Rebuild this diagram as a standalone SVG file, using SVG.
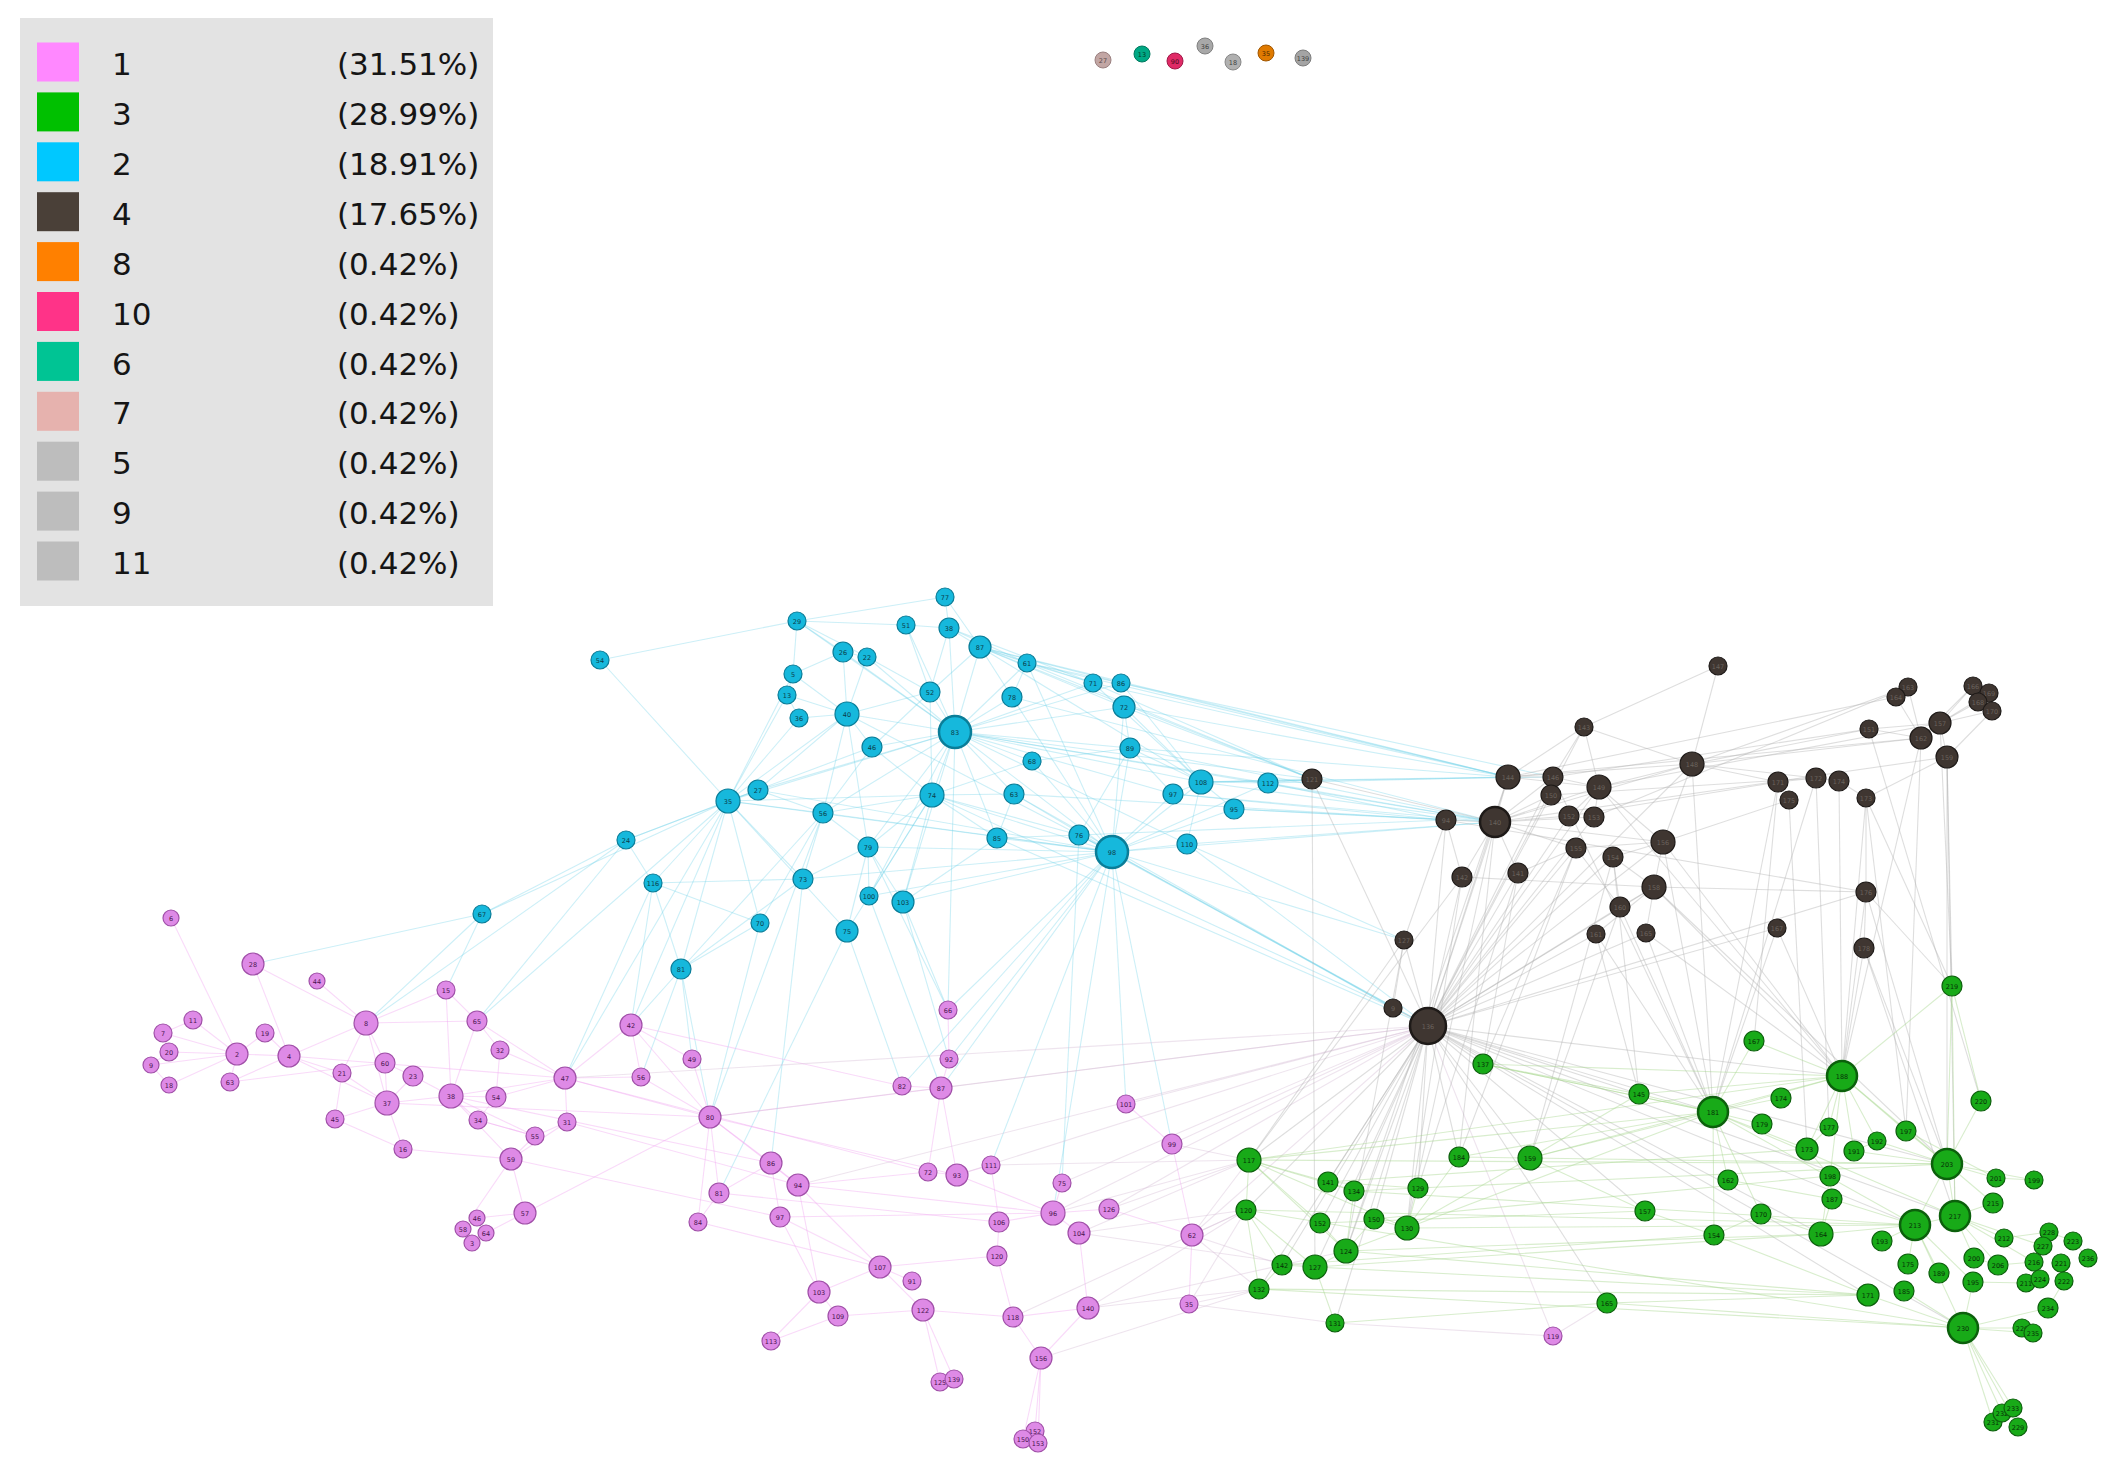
<svg xmlns="http://www.w3.org/2000/svg" width="2116" height="1465" viewBox="0 0 2116 1465">
<style>
text{font-family:"DejaVu Sans","Liberation Sans",sans-serif}
.lg{font-size:31px;fill:#151515}
#edges path{fill:none;stroke-width:1.1}
.ec path{stroke:#72d2e8;stroke-opacity:.36}
.ep path{stroke:#f0a8f0;stroke-opacity:.42}
.eg path{stroke:#a8d890;stroke-opacity:.45}
.ed path{stroke:#b0b0b0;stroke-opacity:.42}
.ex path{stroke:#d4bcd4;stroke-opacity:.4}
.n text{font-size:6.5px;text-anchor:middle}
.c circle{fill:#16b8dc;stroke:#0a7d98;stroke-width:1.2}
.c text{fill:#0b3c4a}
.p circle{fill:#de8ae6;stroke:#a050a8;stroke-width:1.2}
.p text{fill:#4a1550}
.g circle{fill:#18aa18;stroke:#0c600c;stroke-width:1.2}
.g text{fill:#063006}
.d circle{fill:#3f3631;stroke:#1e1a18;stroke-width:1.2}
.d text{fill:#6a625c}
.b circle{stroke-width:2.5}
</style>
<rect x="0" y="0" width="2116" height="1465" fill="#ffffff"/>
<g id="edges">
<g class="ec">
<path d="M955 732L847 714"/><path d="M955 732L872 747"/><path d="M955 732L930 692"/><path d="M955 732L932 795"/><path d="M955 732L980 647"/><path d="M955 732L949 628"/><path d="M955 732L843 652"/><path d="M955 732L867 657"/><path d="M955 732L1012 697"/><path d="M955 732L1130 748"/><path d="M955 732L1201 782"/><path d="M955 732L1112 852"/><path d="M955 732L728 801"/><path d="M955 732L823 813"/><path d="M955 732L868 847"/><path d="M955 732L1027 663"/><path d="M955 732L1032 761"/><path d="M955 732L1014 794"/><path d="M955 732L997 838"/><path d="M955 732L1124 707"/><path d="M955 732L906 625"/><path d="M955 732L797 621"/><path d="M955 732L758 790"/><path d="M955 732L869 896"/><path d="M955 732L903 902"/><path d="M955 732L1173 794"/><path d="M955 732L1187 844"/><path d="M955 732L1268 783"/><path d="M955 732L1093 683"/><path d="M955 732L1121 683"/>
<path d="M1112 852L932 795"/><path d="M1112 852L1014 794"/><path d="M1112 852L997 838"/><path d="M1112 852L1032 761"/><path d="M1112 852L1130 748"/><path d="M1112 852L1201 782"/><path d="M1112 852L1173 794"/><path d="M1112 852L1187 844"/><path d="M1112 852L1234 809"/><path d="M1112 852L1079 835"/><path d="M1112 852L1268 783"/><path d="M1112 852L868 847"/><path d="M1112 852L903 902"/><path d="M1112 852L869 896"/><path d="M1112 852L803 879"/><path d="M1112 852L823 813"/><path d="M1112 852L728 801"/><path d="M1112 852L758 790"/><path d="M1112 852L847 714"/><path d="M1112 852L1012 697"/><path d="M1112 852L1124 707"/><path d="M1112 852L1027 663"/>
<path d="M728 801L758 790"/><path d="M728 801L799 718"/><path d="M728 801L787 695"/><path d="M728 801L793 674"/><path d="M728 801L626 840"/><path d="M728 801L653 883"/><path d="M728 801L803 879"/><path d="M728 801L823 813"/><path d="M728 801L847 714"/><path d="M728 801L872 747"/><path d="M728 801L932 795"/><path d="M728 801L760 923"/><path d="M728 801L847 931"/><path d="M728 801L600 660"/>
<path d="M797 621L600 660"/><path d="M797 621L906 625"/><path d="M797 621L843 652"/><path d="M797 621L793 674"/><path d="M797 621L945 597"/><path d="M797 621L867 657"/>
<path d="M949 628L945 597"/><path d="M949 628L980 647"/><path d="M949 628L906 625"/><path d="M949 628L930 692"/><path d="M949 628L1027 663"/><path d="M949 628L1093 683"/>
<path d="M980 647L945 597"/><path d="M980 647L1027 663"/><path d="M980 647L1093 683"/><path d="M980 647L1121 683"/><path d="M980 647L1124 707"/><path d="M980 647L1012 697"/><path d="M980 647L930 692"/><path d="M980 647L1201 782"/>
<path d="M847 714L843 652"/><path d="M847 714L867 657"/><path d="M847 714L799 718"/><path d="M847 714L787 695"/><path d="M847 714L872 747"/><path d="M847 714L823 813"/><path d="M847 714L868 847"/><path d="M847 714L930 692"/><path d="M847 714L793 674"/><path d="M847 714L758 790"/>
<path d="M932 795L872 747"/><path d="M932 795L868 847"/><path d="M932 795L823 813"/><path d="M932 795L1014 794"/><path d="M932 795L997 838"/><path d="M932 795L903 902"/><path d="M932 795L1079 835"/><path d="M932 795L1032 761"/><path d="M932 795L930 692"/><path d="M932 795L847 931"/><path d="M932 795L869 896"/>
<path d="M823 813L872 747"/><path d="M823 813L803 879"/><path d="M823 813L868 847"/><path d="M823 813L758 790"/><path d="M823 813L760 923"/>
<path d="M868 847L869 896"/><path d="M868 847L903 902"/><path d="M868 847L847 931"/><path d="M868 847L803 879"/>
<path d="M1201 782L1173 794"/><path d="M1201 782L1268 783"/><path d="M1201 782L1234 809"/><path d="M1201 782L1130 748"/><path d="M1201 782L1124 707"/><path d="M1201 782L1121 683"/><path d="M1201 782L1093 683"/><path d="M1201 782L1187 844"/>
<path d="M1027 663L1093 683"/><path d="M1027 663L1012 697"/><path d="M1027 663L1121 683"/><path d="M1130 748L1124 707"/><path d="M1130 748L1173 794"/><path d="M1130 748L1032 761"/><path d="M1130 748L1079 835"/><path d="M997 838L1014 794"/><path d="M997 838L1079 835"/><path d="M997 838L903 902"/>
<path d="M626 840L653 883"/><path d="M626 840L758 790"/><path d="M653 883L803 879"/><path d="M653 883L760 923"/><path d="M681 969L728 801"/><path d="M681 969L653 883"/><path d="M681 969L760 923"/><path d="M681 969L803 879"/><path d="M681 969L823 813"/><path d="M482 914L728 801"/><path d="M482 914L626 840"/><path d="M843 652L867 657"/><path d="M843 652L793 674"/><path d="M930 692L867 657"/><path d="M930 692L906 625"/><path d="M930 692L872 747"/><path d="M787 695L793 674"/><path d="M787 695L799 718"/>
<path d="M1201 782L1495 822"/><path d="M1201 782L1508 777"/><path d="M1201 782L1553 777"/><path d="M1201 782L1312 779"/><path d="M1268 783L1312 779"/><path d="M1268 783L1495 822"/><path d="M1268 783L1446 820"/><path d="M1268 783L1508 777"/><path d="M1173 794L1495 822"/><path d="M1173 794L1446 820"/><path d="M1234 809L1495 822"/><path d="M1234 809L1446 820"/><path d="M1187 844L1495 822"/><path d="M1187 844L1428 1026"/><path d="M1187 844L1404 940"/><path d="M1130 748L1495 822"/><path d="M1130 748L1508 777"/><path d="M1124 707L1508 777"/><path d="M1124 707L1312 779"/><path d="M1121 683L1508 777"/><path d="M1121 683L1553 777"/><path d="M1093 683L1508 777"/><path d="M1093 683L1312 779"/><path d="M1027 663L1312 779"/><path d="M1027 663L1508 777"/><path d="M980 647L1312 779"/><path d="M980 647L1508 777"/><path d="M955 732L1495 822"/><path d="M955 732L1312 779"/><path d="M1112 852L1428 1026"/><path d="M1112 852L1495 822"/><path d="M1112 852L1393 1008"/><path d="M1112 852L1404 940"/><path d="M1079 835L1428 1026"/><path d="M1079 835L1446 820"/><path d="M997 838L1428 1026"/><path d="M1012 697L1495 822"/><path d="M1014 794L1446 820"/><path d="M1014 794L1393 1008"/><path d="M932 795L1393 1008"/>
<path d="M681 969L710 1117"/><path d="M681 969L692 1059"/><path d="M681 969L631 1025"/><path d="M681 969L641 1077"/><path d="M728 801L631 1025"/><path d="M728 801L565 1078"/><path d="M728 801L477 1021"/><path d="M626 840L366 1023"/><path d="M626 840L477 1021"/><path d="M653 883L565 1078"/><path d="M653 883L631 1025"/><path d="M482 914L366 1023"/><path d="M482 914L446 990"/><path d="M482 914L253 964"/><path d="M868 847L948 1010"/><path d="M903 902L949 1059"/><path d="M903 902L948 1010"/><path d="M869 896L941 1088"/><path d="M1112 852L948 1010"/><path d="M1112 852L949 1059"/><path d="M1112 852L902 1086"/><path d="M1112 852L991 1165"/><path d="M1112 852L1053 1213"/><path d="M1112 852L941 1088"/><path d="M1112 852L1126 1104"/><path d="M1112 852L1172 1144"/><path d="M955 732L948 1010"/><path d="M1079 835L1062 1183"/><path d="M847 931L902 1086"/><path d="M847 931L719 1193"/><path d="M760 923L710 1117"/><path d="M803 879L771 1163"/><path d="M823 813L710 1117"/>
</g>
<g class="ep">
<path d="M237 1054L289 1056"/><path d="M237 1054L265 1033"/><path d="M237 1054L230 1082"/><path d="M237 1054L193 1020"/><path d="M237 1054L163 1033"/><path d="M237 1054L169 1052"/><path d="M237 1054L151 1065"/><path d="M237 1054L169 1085"/><path d="M237 1054L171 918"/>
<path d="M289 1056L366 1023"/><path d="M289 1056L265 1033"/><path d="M289 1056L342 1073"/><path d="M289 1056L387 1103"/><path d="M289 1056L253 964"/><path d="M289 1056L230 1082"/>
<path d="M366 1023L385 1063"/><path d="M366 1023L342 1073"/><path d="M366 1023L446 990"/><path d="M366 1023L477 1021"/><path d="M366 1023L387 1103"/><path d="M366 1023L317 981"/><path d="M366 1023L253 964"/>
<path d="M387 1103L451 1096"/><path d="M387 1103L342 1073"/><path d="M387 1103L385 1063"/><path d="M387 1103L413 1076"/><path d="M387 1103L335 1119"/><path d="M387 1103L403 1149"/>
<path d="M451 1096L496 1097"/><path d="M451 1096L413 1076"/><path d="M451 1096L478 1120"/><path d="M451 1096L477 1021"/><path d="M451 1096L446 990"/><path d="M451 1096L565 1078"/><path d="M451 1096L511 1159"/><path d="M451 1096L535 1136"/>
<path d="M496 1097L565 1078"/><path d="M496 1097L478 1120"/><path d="M496 1097L500 1050"/>
<path d="M565 1078L567 1122"/><path d="M565 1078L631 1025"/><path d="M565 1078L641 1077"/><path d="M565 1078L710 1117"/><path d="M565 1078L500 1050"/><path d="M565 1078L477 1021"/>
<path d="M535 1136L511 1159"/><path d="M535 1136L567 1122"/><path d="M535 1136L478 1120"/><path d="M511 1159L525 1213"/><path d="M511 1159L463 1229"/><path d="M511 1159L403 1149"/><path d="M525 1213L477 1218"/><path d="M525 1213L486 1233"/><path d="M525 1213L710 1117"/>
<path d="M710 1117L771 1163"/><path d="M710 1117L719 1193"/><path d="M710 1117L698 1222"/><path d="M710 1117L631 1025"/><path d="M710 1117L641 1077"/><path d="M710 1117L692 1059"/><path d="M710 1117L798 1185"/>
<path d="M771 1163L798 1185"/><path d="M771 1163L780 1217"/><path d="M771 1163L719 1193"/><path d="M798 1185L880 1267"/><path d="M798 1185L928 1172"/><path d="M798 1185L819 1292"/><path d="M780 1217L819 1292"/><path d="M780 1217L880 1267"/>
<path d="M819 1292L838 1316"/><path d="M819 1292L880 1267"/><path d="M819 1292L771 1341"/><path d="M880 1267L912 1281"/><path d="M880 1267L923 1310"/><path d="M880 1267L997 1256"/>
<path d="M923 1310L838 1316"/><path d="M923 1310L954 1379"/><path d="M923 1310L940 1382"/><path d="M923 1310L1013 1317"/><path d="M1013 1317L1041 1358"/><path d="M1013 1317L1088 1308"/><path d="M1041 1358L1035 1431"/><path d="M1041 1358L1023 1439"/><path d="M1041 1358L1038 1443"/><path d="M1041 1358L1088 1308"/><path d="M838 1316L771 1341"/>
<path d="M957 1175L928 1172"/><path d="M957 1175L941 1088"/><path d="M957 1175L991 1165"/><path d="M957 1175L1053 1213"/><path d="M941 1088L949 1059"/><path d="M941 1088L902 1086"/><path d="M941 1088L928 1172"/><path d="M949 1059L948 1010"/>
<path d="M999 1222L1053 1213"/><path d="M999 1222L997 1256"/><path d="M999 1222L991 1165"/><path d="M997 1256L1013 1317"/><path d="M1053 1213L1062 1183"/><path d="M1053 1213L1079 1233"/><path d="M1053 1213L1109 1209"/><path d="M1079 1233L1088 1308"/><path d="M1109 1209L1192 1235"/><path d="M1126 1104L1172 1144"/><path d="M1172 1144L1192 1235"/><path d="M1189 1304L1192 1235"/>
<path d="M163 1033L169 1052"/><path d="M169 1052L151 1065"/><path d="M151 1065L169 1085"/><path d="M193 1020L163 1033"/><path d="M342 1073L335 1119"/><path d="M403 1149L335 1119"/><path d="M413 1076L385 1063"/><path d="M385 1063L230 1082"/><path d="M446 990L477 1021"/><path d="M477 1021L500 1050"/><path d="M478 1120L535 1136"/><path d="M567 1122L511 1159"/><path d="M641 1077L631 1025"/><path d="M692 1059L631 1025"/><path d="M719 1193L698 1222"/>
<path d="M565 1078L928 1172"/><path d="M451 1096L771 1163"/><path d="M710 1117L957 1175"/><path d="M387 1103L710 1117"/><path d="M289 1056L565 1078"/><path d="M780 1217L1053 1213"/><path d="M798 1185L1053 1213"/><path d="M710 1117L941 1088"/><path d="M567 1122L798 1185"/><path d="M511 1159L780 1217"/><path d="M631 1025L902 1086"/><path d="M698 1222L880 1267"/><path d="M719 1193L999 1222"/>
</g>
<g class="ex">
<path d="M1192 1235L1249 1160"/><path d="M1192 1235L1246 1210"/><path d="M1192 1235L1259 1289"/><path d="M1192 1235L1282 1265"/><path d="M1109 1209L1249 1160"/><path d="M1079 1233L1246 1210"/><path d="M1079 1233L1249 1160"/><path d="M1088 1308L1259 1289"/><path d="M1088 1308L1246 1210"/><path d="M1041 1358L1259 1289"/><path d="M1189 1304L1259 1289"/><path d="M1189 1304L1246 1210"/><path d="M1172 1144L1249 1160"/><path d="M1172 1144L1428 1026"/><path d="M1126 1104L1428 1026"/><path d="M1053 1213L1428 1026"/><path d="M1053 1213L1249 1160"/><path d="M1062 1183L1428 1026"/><path d="M1013 1317L1246 1210"/><path d="M1553 1336L1335 1323"/><path d="M1553 1336L1607 1303"/><path d="M1553 1336L1428 1026"/><path d="M957 1175L1428 1026"/><path d="M941 1088L1428 1026"/><path d="M710 1117L1428 1026"/><path d="M798 1185L1428 1026"/><path d="M565 1078L1428 1026"/><path d="M1109 1209L1428 1026"/><path d="M1192 1235L1428 1026"/><path d="M1079 1233L1315 1267"/><path d="M1088 1308L1346 1251"/><path d="M991 1165L1249 1160"/><path d="M1189 1304L1335 1323"/>
</g>
<g class="ed">
<path d="M1428 1026L1495 822"/><path d="M1428 1026L1508 777"/><path d="M1428 1026L1553 777"/><path d="M1428 1026L1551 795"/><path d="M1428 1026L1599 787"/><path d="M1428 1026L1569 816"/><path d="M1428 1026L1594 817"/><path d="M1428 1026L1576 848"/><path d="M1428 1026L1613 857"/><path d="M1428 1026L1663 842"/><path d="M1428 1026L1654 887"/><path d="M1428 1026L1620 907"/><path d="M1428 1026L1596 934"/><path d="M1428 1026L1646 933"/><path d="M1428 1026L1518 873"/><path d="M1428 1026L1462 877"/><path d="M1428 1026L1404 940"/><path d="M1428 1026L1393 1008"/><path d="M1428 1026L1312 779"/><path d="M1428 1026L1446 820"/><path d="M1428 1026L1692 764"/><path d="M1428 1026L1584 727"/><path d="M1428 1026L1866 892"/><path d="M1428 1026L1777 928"/>
<path d="M1428 1026L1483 1064"/><path d="M1428 1026L1459 1157"/><path d="M1428 1026L1530 1158"/><path d="M1428 1026L1418 1188"/><path d="M1428 1026L1407 1228"/><path d="M1428 1026L1346 1251"/><path d="M1428 1026L1354 1191"/><path d="M1428 1026L1328 1182"/><path d="M1428 1026L1320 1223"/><path d="M1428 1026L1374 1219"/><path d="M1428 1026L1249 1160"/><path d="M1428 1026L1246 1210"/><path d="M1428 1026L1282 1265"/><path d="M1428 1026L1315 1267"/><path d="M1428 1026L1259 1289"/><path d="M1428 1026L1335 1323"/><path d="M1428 1026L1639 1094"/><path d="M1428 1026L1713 1112"/><path d="M1428 1026L1842 1076"/><path d="M1428 1026L1947 1164"/><path d="M1428 1026L1915 1225"/><path d="M1428 1026L1955 1216"/><path d="M1428 1026L1963 1328"/><path d="M1428 1026L1821 1234"/><path d="M1428 1026L1868 1295"/><path d="M1428 1026L1645 1211"/><path d="M1428 1026L1607 1303"/>
<path d="M1495 822L1508 777"/><path d="M1495 822L1553 777"/><path d="M1495 822L1551 795"/><path d="M1495 822L1599 787"/><path d="M1495 822L1446 820"/><path d="M1495 822L1569 816"/><path d="M1495 822L1594 817"/><path d="M1495 822L1518 873"/><path d="M1495 822L1462 877"/><path d="M1495 822L1576 848"/><path d="M1495 822L1663 842"/><path d="M1495 822L1692 764"/><path d="M1495 822L1312 779"/>
<path d="M1508 777L1553 777"/><path d="M1508 777L1584 727"/><path d="M1508 777L1599 787"/><path d="M1508 777L1692 764"/><path d="M1553 777L1551 795"/><path d="M1553 777L1599 787"/><path d="M1599 787L1569 816"/><path d="M1599 787L1594 817"/><path d="M1599 787L1692 764"/><path d="M1599 787L1663 842"/><path d="M1599 787L1584 727"/>
<path d="M1692 764L1718 666"/><path d="M1692 764L1584 727"/><path d="M1692 764L1869 729"/><path d="M1692 764L1921 738"/><path d="M1692 764L1778 782"/><path d="M1692 764L1663 842"/><path d="M1692 764L1816 778"/><path d="M1692 764L1908 687"/>
<path d="M1869 729L1921 738"/><path d="M1869 729L1940 723"/><path d="M1921 738L1940 723"/><path d="M1921 738L1908 687"/><path d="M1921 738L1896 697"/><path d="M1921 738L1973 686"/><path d="M1940 723L1947 757"/><path d="M1940 723L1978 702"/><path d="M1940 723L1989 693"/><path d="M1940 723L1992 711"/><path d="M1940 723L1973 686"/><path d="M1947 757L1992 711"/>
<path d="M1778 782L1816 778"/><path d="M1778 782L1789 800"/><path d="M1816 778L1839 781"/><path d="M1839 781L1866 798"/><path d="M1789 800L1663 842"/><path d="M1866 798L1947 757"/><path d="M1663 842L1654 887"/><path d="M1663 842L1576 848"/><path d="M1663 842L1613 857"/><path d="M1654 887L1620 907"/><path d="M1654 887L1596 934"/><path d="M1654 887L1646 933"/><path d="M1654 887L1866 892"/><path d="M1654 887L1613 857"/><path d="M1613 857L1620 907"/><path d="M1576 848L1620 907"/><path d="M1866 892L1864 948"/><path d="M1866 892L1866 798"/><path d="M1518 873L1576 848"/><path d="M1462 877L1446 820"/><path d="M1446 820L1404 940"/><path d="M1404 940L1393 1008"/><path d="M1584 727L1553 777"/>
<path d="M1508 777L1921 738"/><path d="M1553 777L1869 729"/><path d="M1599 787L1940 723"/><path d="M1495 822L1947 757"/><path d="M1594 817L1908 687"/><path d="M1569 816L1778 782"/><path d="M1551 795L1816 778"/><path d="M1462 877L1654 887"/><path d="M1446 820L1866 892"/><path d="M1584 727L1718 666"/><path d="M1509 777L1896 697"/>
<path d="M1866 892L1952 986"/><path d="M1866 892L1947 1164"/><path d="M1866 892L1842 1076"/><path d="M1864 948L1947 1164"/><path d="M1864 948L1955 1216"/><path d="M1864 948L1842 1076"/><path d="M1947 757L1952 986"/><path d="M1947 757L1955 1216"/><path d="M1947 757L1947 1164"/><path d="M1940 723L1952 986"/><path d="M1921 738L1842 1076"/><path d="M1921 738L1906 1131"/><path d="M1866 798L1842 1076"/><path d="M1866 798L1952 986"/><path d="M1839 781L1842 1076"/><path d="M1816 778L1829 1127"/><path d="M1816 778L1713 1112"/><path d="M1778 782L1713 1112"/><path d="M1778 782L1754 1041"/><path d="M1789 800L1807 1149"/><path d="M1777 928L1713 1112"/><path d="M1777 928L1842 1076"/><path d="M1646 933L1713 1112"/><path d="M1646 933L1842 1076"/><path d="M1596 934L1639 1094"/><path d="M1596 934L1713 1112"/><path d="M1620 907L1713 1112"/><path d="M1620 907L1530 1158"/><path d="M1654 887L1842 1076"/><path d="M1654 887L1947 1164"/><path d="M1663 842L1842 1076"/><path d="M1663 842L1713 1112"/><path d="M1613 857L1530 1158"/><path d="M1613 857L1639 1094"/><path d="M1576 848L1483 1064"/><path d="M1576 848L1459 1157"/><path d="M1518 873L1483 1064"/><path d="M1518 873L1418 1188"/><path d="M1462 877L1407 1228"/><path d="M1462 877L1249 1160"/><path d="M1495 822L1407 1228"/><path d="M1495 822L1459 1157"/><path d="M1692 764L1713 1112"/><path d="M1553 777L1713 1112"/><path d="M1599 787L1842 1076"/><path d="M1404 940L1346 1251"/><path d="M1404 940L1249 1160"/><path d="M1312 779L1315 1267"/><path d="M1508 777L1346 1251"/><path d="M1869 729L1981 1101"/><path d="M1866 798L1906 1131"/>
</g>
<g class="eg">
<path d="M1249 1160L1328 1182"/><path d="M1249 1160L1246 1210"/><path d="M1249 1160L1320 1223"/><path d="M1249 1160L1346 1251"/><path d="M1249 1160L1354 1191"/><path d="M1249 1160L1713 1112"/><path d="M1249 1160L1947 1164"/><path d="M1249 1160L1407 1228"/>
<path d="M1246 1210L1282 1265"/><path d="M1246 1210L1259 1289"/><path d="M1246 1210L1315 1267"/><path d="M1246 1210L1915 1225"/><path d="M1282 1265L1315 1267"/><path d="M1282 1265L1259 1289"/><path d="M1315 1267L1346 1251"/><path d="M1315 1267L1335 1323"/><path d="M1315 1267L1821 1234"/>
<path d="M1346 1251L1320 1223"/><path d="M1346 1251L1374 1219"/><path d="M1346 1251L1407 1228"/><path d="M1346 1251L1354 1191"/><path d="M1346 1251L1868 1295"/><path d="M1407 1228L1418 1188"/><path d="M1407 1228L1374 1219"/><path d="M1407 1228L1459 1157"/><path d="M1407 1228L1915 1225"/><path d="M1418 1188L1354 1191"/><path d="M1418 1188L1328 1182"/><path d="M1328 1182L1354 1191"/><path d="M1459 1157L1530 1158"/>
<path d="M1530 1158L1639 1094"/><path d="M1530 1158L1645 1211"/><path d="M1530 1158L1713 1112"/><path d="M1530 1158L1407 1228"/><path d="M1530 1158L1947 1164"/><path d="M1639 1094L1713 1112"/><path d="M1639 1094L1842 1076"/><path d="M1639 1094L1483 1064"/>
<path d="M1713 1112L1762 1124"/><path d="M1713 1112L1781 1098"/><path d="M1713 1112L1807 1149"/><path d="M1713 1112L1728 1180"/><path d="M1713 1112L1714 1235"/><path d="M1713 1112L1761 1214"/><path d="M1713 1112L1842 1076"/><path d="M1713 1112L1754 1041"/><path d="M1713 1112L1483 1064"/><path d="M1713 1112L1915 1225"/><path d="M1713 1112L1955 1216"/>
<path d="M1842 1076L1829 1127"/><path d="M1842 1076L1807 1149"/><path d="M1842 1076L1854 1151"/><path d="M1842 1076L1877 1141"/><path d="M1842 1076L1947 1164"/><path d="M1842 1076L1830 1176"/><path d="M1842 1076L1952 986"/><path d="M1842 1076L1754 1041"/><path d="M1842 1076L1906 1131"/><path d="M1842 1076L1483 1064"/>
<path d="M1947 1164L1955 1216"/><path d="M1947 1164L1915 1225"/><path d="M1947 1164L1996 1178"/><path d="M1947 1164L2034 1180"/><path d="M1947 1164L1993 1203"/><path d="M1947 1164L1981 1101"/><path d="M1947 1164L1906 1131"/><path d="M1947 1164L1877 1141"/><path d="M1947 1164L1854 1151"/><path d="M1947 1164L1952 986"/>
<path d="M1955 1216L1915 1225"/><path d="M1955 1216L1993 1203"/><path d="M1955 1216L1974 1258"/><path d="M1955 1216L1998 1265"/><path d="M1955 1216L2004 1238"/><path d="M1955 1216L2034 1262"/><path d="M1955 1216L2043 1246"/><path d="M1955 1216L1952 986"/>
<path d="M1915 1225L1821 1234"/><path d="M1915 1225L1882 1241"/><path d="M1915 1225L1908 1264"/><path d="M1915 1225L1939 1273"/><path d="M1915 1225L1832 1199"/><path d="M1915 1225L1973 1282"/><path d="M1915 1225L1963 1328"/>
<path d="M1963 1328L1868 1295"/><path d="M1963 1328L1904 1291"/><path d="M1963 1328L1973 1282"/><path d="M1963 1328L2048 1308"/><path d="M1963 1328L2022 1328"/><path d="M1963 1328L2033 1333"/><path d="M1963 1328L1993 1422"/><path d="M1963 1328L2002 1413"/><path d="M1963 1328L2013 1408"/><path d="M1963 1328L2018 1427"/>
<path d="M1821 1234L1832 1199"/><path d="M1821 1234L1830 1176"/><path d="M1821 1234L1761 1214"/><path d="M1714 1235L1868 1295"/><path d="M1714 1235L1761 1214"/><path d="M1714 1235L1645 1211"/><path d="M1728 1180L1832 1199"/><path d="M1607 1303L1868 1295"/><path d="M1607 1303L1963 1328"/><path d="M1981 1101L1952 986"/><path d="M2004 1238L2049 1232"/><path d="M2049 1232L2073 1241"/><path d="M2073 1241L2088 1258"/><path d="M2061 1263L2064 1281"/><path d="M2034 1262L2040 1279"/><path d="M2026 1283L2040 1279"/><path d="M1974 1258L1998 1265"/><path d="M1998 1265L2034 1262"/><path d="M1973 1282L2026 1283"/><path d="M2048 1308L2064 1281"/><path d="M1996 1178L2034 1180"/><path d="M1906 1131L1996 1178"/><path d="M1807 1149L1829 1127"/><path d="M1807 1149L1830 1176"/><path d="M1854 1151L1877 1141"/><path d="M1832 1199L1830 1176"/><path d="M1483 1064L1713 1112"/>
<path d="M1246 1210L1963 1328"/><path d="M1259 1289L1963 1328"/><path d="M1315 1267L1868 1295"/><path d="M1346 1251L1821 1234"/><path d="M1282 1265L1714 1235"/><path d="M1320 1223L1645 1211"/><path d="M1374 1219L1830 1176"/><path d="M1407 1228L1713 1112"/><path d="M1335 1323L1607 1303"/><path d="M1259 1289L1868 1295"/><path d="M1530 1158L1842 1076"/><path d="M1249 1160L1842 1076"/><path d="M1354 1191L1915 1225"/><path d="M1328 1182L1807 1149"/><path d="M1418 1188L1947 1164"/><path d="M1459 1157L1713 1112"/>
</g>
</g>
<g id="legend">
<rect x="20" y="18" width="473" height="588" fill="#e3e3e3"/>
<rect x="37" y="42.5" width="42" height="39" fill="#ff88ff"/><text class="lg" x="112" y="75">1</text><text class="lg" x="337" y="75">(31.51%)</text>
<rect x="37" y="92.4" width="42" height="39" fill="#00c000"/><text class="lg" x="112" y="125">3</text><text class="lg" x="337" y="125">(28.99%)</text>
<rect x="37" y="142.3" width="42" height="39" fill="#00c8ff"/><text class="lg" x="112" y="175">2</text><text class="lg" x="337" y="175">(18.91%)</text>
<rect x="37" y="192.2" width="42" height="39" fill="#4a4038"/><text class="lg" x="112" y="225">4</text><text class="lg" x="337" y="225">(17.65%)</text>
<rect x="37" y="242.1" width="42" height="39" fill="#ff8000"/><text class="lg" x="112" y="275">8</text><text class="lg" x="337" y="275">(0.42%)</text>
<rect x="37" y="292" width="42" height="39" fill="#ff3388"/><text class="lg" x="112" y="325">10</text><text class="lg" x="337" y="325">(0.42%)</text>
<rect x="37" y="341.9" width="42" height="39" fill="#00c494"/><text class="lg" x="112" y="375">6</text><text class="lg" x="337" y="375">(0.42%)</text>
<rect x="37" y="391.8" width="42" height="39" fill="#e6b2ae"/><text class="lg" x="112" y="424">7</text><text class="lg" x="337" y="424">(0.42%)</text>
<rect x="37" y="441.7" width="42" height="39" fill="#bdbdbd"/><text class="lg" x="112" y="474">5</text><text class="lg" x="337" y="474">(0.42%)</text>
<rect x="37" y="491.6" width="42" height="39" fill="#bdbdbd"/><text class="lg" x="112" y="524">9</text><text class="lg" x="337" y="524">(0.42%)</text>
<rect x="37" y="541.5" width="42" height="39" fill="#bdbdbd"/><text class="lg" x="112" y="574">11</text><text class="lg" x="337" y="574">(0.42%)</text>
</g>
<g id="isolated" class="n">
<g id="i27"><circle cx="1103" cy="60" r="8" fill="#c2a6a4" stroke="#9a8080"/><text x="1103" y="62.5" fill="#5a4a4a">27</text></g>
<g id="i13"><circle cx="1142" cy="54" r="8" fill="#00a884" stroke="#00785e"/><text x="1142" y="56.5" fill="#003a2a">13</text></g>
<g id="i90"><circle cx="1175" cy="61" r="8" fill="#e02a66" stroke="#a01848"/><text x="1175" y="63.5" fill="#4a0a20">90</text></g>
<g id="i36"><circle cx="1205" cy="46" r="8" fill="#a8a8a8" stroke="#808080"/><text x="1205" y="48.5" fill="#404040">36</text></g>
<g id="i18"><circle cx="1233" cy="62" r="8" fill="#b0b0b0" stroke="#888"/><text x="1233" y="64.5" fill="#404040">18</text></g>
<g id="i35"><circle cx="1266" cy="53" r="8" fill="#e07a00" stroke="#a05600"/><text x="1266" y="55.5" fill="#4a2800">35</text></g>
<g id="i139"><circle cx="1303" cy="58" r="8" fill="#a4a4a4" stroke="#7c7c7c"/><text x="1303" y="60.5" fill="#404040">139</text></g>
</g>
<g id="nodes-cyan" class="n c">
<g id="c54"><circle cx="600" cy="660" r="9"/><text x="600" y="662.5">54</text></g>
<g id="c29"><circle cx="797" cy="621" r="9"/><text x="797" y="623.5">29</text></g>
<g id="c51"><circle cx="906" cy="625" r="9"/><text x="906" y="627.5">51</text></g>
<g id="c77"><circle cx="945" cy="597" r="9"/><text x="945" y="599.5">77</text></g>
<g id="c38"><circle cx="949" cy="628" r="10"/><text x="949" y="630.5">38</text></g>
<g id="c87"><circle cx="980" cy="647" r="11"/><text x="980" y="649.5">87</text></g>
<g id="c26"><circle cx="843" cy="652" r="10"/><text x="843" y="654.5">26</text></g>
<g id="c22"><circle cx="867" cy="657" r="9"/><text x="867" y="659.5">22</text></g>
<g id="c5"><circle cx="793" cy="674" r="9"/><text x="793" y="676.5">5</text></g>
<g id="c13"><circle cx="787" cy="695" r="9"/><text x="787" y="697.5">13</text></g>
<g id="c36"><circle cx="799" cy="718" r="9"/><text x="799" y="720.5">36</text></g>
<g id="c40"><circle cx="847" cy="714" r="12"/><text x="847" y="716.5">40</text></g>
<g id="c52"><circle cx="930" cy="692" r="10"/><text x="930" y="694.5">52</text></g>
<g id="c83" class="b"><circle cx="955" cy="732" r="16"/><text x="955" y="734.5">83</text></g>
<g id="c46"><circle cx="872" cy="747" r="10"/><text x="872" y="749.5">46</text></g>
<g id="c35"><circle cx="728" cy="801" r="12"/><text x="728" y="803.5">35</text></g>
<g id="c27"><circle cx="758" cy="790" r="10"/><text x="758" y="792.5">27</text></g>
<g id="c56"><circle cx="823" cy="813" r="10"/><text x="823" y="815.5">56</text></g>
<g id="c74"><circle cx="932" cy="795" r="12"/><text x="932" y="797.5">74</text></g>
<g id="c79"><circle cx="868" cy="847" r="10"/><text x="868" y="849.5">79</text></g>
<g id="c24"><circle cx="626" cy="840" r="9"/><text x="626" y="842.5">24</text></g>
<g id="c116"><circle cx="653" cy="883" r="9"/><text x="653" y="885.5">116</text></g>
<g id="c73"><circle cx="803" cy="879" r="10"/><text x="803" y="881.5">73</text></g>
<g id="c100"><circle cx="869" cy="896" r="9"/><text x="869" y="898.5">100</text></g>
<g id="c103"><circle cx="903" cy="902" r="11"/><text x="903" y="904.5">103</text></g>
<g id="c61"><circle cx="1027" cy="663" r="9"/><text x="1027" y="665.5">61</text></g>
<g id="c71"><circle cx="1093" cy="683" r="9"/><text x="1093" y="685.5">71</text></g>
<g id="c86"><circle cx="1121" cy="683" r="9"/><text x="1121" y="685.5">86</text></g>
<g id="c72"><circle cx="1124" cy="707" r="11"/><text x="1124" y="709.5">72</text></g>
<g id="c78"><circle cx="1012" cy="697" r="10"/><text x="1012" y="699.5">78</text></g>
<g id="c89"><circle cx="1130" cy="748" r="10"/><text x="1130" y="750.5">89</text></g>
<g id="c68"><circle cx="1032" cy="761" r="9"/><text x="1032" y="763.5">68</text></g>
<g id="c63"><circle cx="1014" cy="794" r="10"/><text x="1014" y="796.5">63</text></g>
<g id="c108"><circle cx="1201" cy="782" r="12"/><text x="1201" y="784.5">108</text></g>
<g id="c97"><circle cx="1173" cy="794" r="10"/><text x="1173" y="796.5">97</text></g>
<g id="c112"><circle cx="1268" cy="783" r="10"/><text x="1268" y="785.5">112</text></g>
<g id="c95"><circle cx="1234" cy="809" r="10"/><text x="1234" y="811.5">95</text></g>
<g id="c76"><circle cx="1079" cy="835" r="10"/><text x="1079" y="837.5">76</text></g>
<g id="c98" class="b"><circle cx="1112" cy="852" r="16"/><text x="1112" y="854.5">98</text></g>
<g id="c110"><circle cx="1187" cy="844" r="10"/><text x="1187" y="846.5">110</text></g>
<g id="c85"><circle cx="997" cy="838" r="10"/><text x="997" y="840.5">85</text></g>
<g id="c81"><circle cx="681" cy="969" r="10"/><text x="681" y="971.5">81</text></g>
<g id="c67"><circle cx="482" cy="914" r="9"/><text x="482" y="916.5">67</text></g>
<g id="c70"><circle cx="760" cy="923" r="9"/><text x="760" y="925.5">70</text></g>
<g id="c75"><circle cx="847" cy="931" r="11"/><text x="847" y="933.5">75</text></g>
</g>
<g id="nodes-pink" class="n p">
<g id="p6"><circle cx="171" cy="918" r="8"/><text x="171" y="920.5">6</text></g>
<g id="p28"><circle cx="253" cy="964" r="11"/><text x="253" y="966.5">28</text></g>
<g id="p44"><circle cx="317" cy="981" r="8"/><text x="317" y="983.5">44</text></g>
<g id="p15"><circle cx="446" cy="990" r="9"/><text x="446" y="992.5">15</text></g>
<g id="p11"><circle cx="193" cy="1020" r="9"/><text x="193" y="1022.5">11</text></g>
<g id="p7"><circle cx="163" cy="1033" r="9"/><text x="163" y="1035.5">7</text></g>
<g id="p19"><circle cx="265" cy="1033" r="9"/><text x="265" y="1035.5">19</text></g>
<g id="p8"><circle cx="366" cy="1023" r="12"/><text x="366" y="1025.5">8</text></g>
<g id="p65"><circle cx="477" cy="1021" r="10"/><text x="477" y="1023.5">65</text></g>
<g id="p20"><circle cx="169" cy="1052" r="9"/><text x="169" y="1054.5">20</text></g>
<g id="p2"><circle cx="237" cy="1054" r="11"/><text x="237" y="1056.5">2</text></g>
<g id="p4"><circle cx="289" cy="1056" r="11"/><text x="289" y="1058.5">4</text></g>
<g id="p9"><circle cx="151" cy="1065" r="8"/><text x="151" y="1067.5">9</text></g>
<g id="p18"><circle cx="169" cy="1085" r="8"/><text x="169" y="1087.5">18</text></g>
<g id="p63"><circle cx="230" cy="1082" r="9"/><text x="230" y="1084.5">63</text></g>
<g id="p32"><circle cx="500" cy="1050" r="9"/><text x="500" y="1052.5">32</text></g>
<g id="p21"><circle cx="342" cy="1073" r="9"/><text x="342" y="1075.5">21</text></g>
<g id="p60"><circle cx="385" cy="1063" r="10"/><text x="385" y="1065.5">60</text></g>
<g id="p23"><circle cx="413" cy="1076" r="10"/><text x="413" y="1078.5">23</text></g>
<g id="p47"><circle cx="565" cy="1078" r="11"/><text x="565" y="1080.5">47</text></g>
<g id="p37"><circle cx="387" cy="1103" r="12"/><text x="387" y="1105.5">37</text></g>
<g id="p38"><circle cx="451" cy="1096" r="12"/><text x="451" y="1098.5">38</text></g>
<g id="p54"><circle cx="496" cy="1097" r="10"/><text x="496" y="1099.5">54</text></g>
<g id="p45"><circle cx="335" cy="1119" r="9"/><text x="335" y="1121.5">45</text></g>
<g id="p34"><circle cx="478" cy="1120" r="9"/><text x="478" y="1122.5">34</text></g>
<g id="p31"><circle cx="567" cy="1122" r="9"/><text x="567" y="1124.5">31</text></g>
<g id="p55"><circle cx="535" cy="1136" r="9"/><text x="535" y="1138.5">55</text></g>
<g id="p16"><circle cx="403" cy="1149" r="9"/><text x="403" y="1151.5">16</text></g>
<g id="p59"><circle cx="511" cy="1159" r="11"/><text x="511" y="1161.5">59</text></g>
<g id="p57"><circle cx="525" cy="1213" r="11"/><text x="525" y="1215.5">57</text></g>
<g id="p46"><circle cx="477" cy="1218" r="8"/><text x="477" y="1220.5">46</text></g>
<g id="p58"><circle cx="463" cy="1229" r="8"/><text x="463" y="1231.5">58</text></g>
<g id="p64"><circle cx="486" cy="1233" r="8"/><text x="486" y="1235.5">64</text></g>
<g id="p3"><circle cx="472" cy="1243" r="8"/><text x="472" y="1245.5">3</text></g>
<g id="p42"><circle cx="631" cy="1025" r="11"/><text x="631" y="1027.5">42</text></g>
<g id="p49"><circle cx="692" cy="1059" r="9"/><text x="692" y="1061.5">49</text></g>
<g id="p56"><circle cx="641" cy="1077" r="9"/><text x="641" y="1079.5">56</text></g>
<g id="p80"><circle cx="710" cy="1117" r="11"/><text x="710" y="1119.5">80</text></g>
<g id="p66"><circle cx="948" cy="1010" r="9"/><text x="948" y="1012.5">66</text></g>
<g id="p92"><circle cx="949" cy="1059" r="9"/><text x="949" y="1061.5">92</text></g>
<g id="p82"><circle cx="902" cy="1086" r="9"/><text x="902" y="1088.5">82</text></g>
<g id="p87"><circle cx="941" cy="1088" r="11"/><text x="941" y="1090.5">87</text></g>
<g id="p86"><circle cx="771" cy="1163" r="11"/><text x="771" y="1165.5">86</text></g>
<g id="p94"><circle cx="798" cy="1185" r="11"/><text x="798" y="1187.5">94</text></g>
<g id="p81"><circle cx="719" cy="1193" r="10"/><text x="719" y="1195.5">81</text></g>
<g id="p84"><circle cx="698" cy="1222" r="9"/><text x="698" y="1224.5">84</text></g>
<g id="p97"><circle cx="780" cy="1217" r="10"/><text x="780" y="1219.5">97</text></g>
<g id="p72"><circle cx="928" cy="1172" r="9"/><text x="928" y="1174.5">72</text></g>
<g id="p93"><circle cx="957" cy="1175" r="11"/><text x="957" y="1177.5">93</text></g>
<g id="p111"><circle cx="991" cy="1165" r="9"/><text x="991" y="1167.5">111</text></g>
<g id="p75"><circle cx="1062" cy="1183" r="9"/><text x="1062" y="1185.5">75</text></g>
<g id="p96"><circle cx="1053" cy="1213" r="12"/><text x="1053" y="1215.5">96</text></g>
<g id="p106"><circle cx="999" cy="1222" r="10"/><text x="999" y="1224.5">106</text></g>
<g id="p120"><circle cx="997" cy="1256" r="10"/><text x="997" y="1258.5">120</text></g>
<g id="p107"><circle cx="880" cy="1267" r="11"/><text x="880" y="1269.5">107</text></g>
<g id="p91"><circle cx="912" cy="1281" r="9"/><text x="912" y="1283.5">91</text></g>
<g id="p103"><circle cx="819" cy="1292" r="11"/><text x="819" y="1294.5">103</text></g>
<g id="p109"><circle cx="838" cy="1316" r="10"/><text x="838" y="1318.5">109</text></g>
<g id="p122"><circle cx="923" cy="1310" r="11"/><text x="923" y="1312.5">122</text></g>
<g id="p118"><circle cx="1013" cy="1317" r="10"/><text x="1013" y="1319.5">118</text></g>
<g id="p113"><circle cx="771" cy="1341" r="9"/><text x="771" y="1343.5">113</text></g>
<g id="p156"><circle cx="1041" cy="1358" r="11"/><text x="1041" y="1360.5">156</text></g>
<g id="p125"><circle cx="940" cy="1382" r="9"/><text x="940" y="1384.5">125</text></g>
<g id="p139"><circle cx="954" cy="1379" r="9"/><text x="954" y="1381.5">139</text></g>
<g id="p152"><circle cx="1035" cy="1431" r="9"/><text x="1035" y="1433.5">152</text></g>
<g id="p150"><circle cx="1023" cy="1439" r="9"/><text x="1023" y="1441.5">150</text></g>
<g id="p153"><circle cx="1038" cy="1443" r="9"/><text x="1038" y="1445.5">153</text></g>
<g id="p101"><circle cx="1126" cy="1104" r="9"/><text x="1126" y="1106.5">101</text></g>
<g id="p99"><circle cx="1172" cy="1144" r="10"/><text x="1172" y="1146.5">99</text></g>
<g id="p126"><circle cx="1109" cy="1209" r="10"/><text x="1109" y="1211.5">126</text></g>
<g id="p104"><circle cx="1079" cy="1233" r="11"/><text x="1079" y="1235.5">104</text></g>
<g id="p62"><circle cx="1192" cy="1235" r="11"/><text x="1192" y="1237.5">62</text></g>
<g id="p140"><circle cx="1088" cy="1308" r="11"/><text x="1088" y="1310.5">140</text></g>
<g id="p35"><circle cx="1189" cy="1304" r="9"/><text x="1189" y="1306.5">35</text></g>
<g id="p119"><circle cx="1553" cy="1336" r="9"/><text x="1553" y="1338.5">119</text></g>
</g>
<g id="nodes-green" class="n g">
<g id="g137"><circle cx="1483" cy="1064" r="10"/><text x="1483" y="1066.5">137</text></g>
<g id="g145"><circle cx="1639" cy="1094" r="10"/><text x="1639" y="1096.5">145</text></g>
<g id="g117"><circle cx="1249" cy="1160" r="12"/><text x="1249" y="1162.5">117</text></g>
<g id="g184"><circle cx="1459" cy="1157" r="10"/><text x="1459" y="1159.5">184</text></g>
<g id="g159"><circle cx="1530" cy="1158" r="12"/><text x="1530" y="1160.5">159</text></g>
<g id="g141"><circle cx="1328" cy="1182" r="10"/><text x="1328" y="1184.5">141</text></g>
<g id="g134"><circle cx="1354" cy="1191" r="10"/><text x="1354" y="1193.5">134</text></g>
<g id="g129"><circle cx="1418" cy="1188" r="10"/><text x="1418" y="1190.5">129</text></g>
<g id="g120"><circle cx="1246" cy="1210" r="10"/><text x="1246" y="1212.5">120</text></g>
<g id="g152"><circle cx="1320" cy="1223" r="10"/><text x="1320" y="1225.5">152</text></g>
<g id="g150"><circle cx="1374" cy="1219" r="10"/><text x="1374" y="1221.5">150</text></g>
<g id="g130"><circle cx="1407" cy="1228" r="12"/><text x="1407" y="1230.5">130</text></g>
<g id="g124"><circle cx="1346" cy="1251" r="12"/><text x="1346" y="1253.5">124</text></g>
<g id="g142"><circle cx="1282" cy="1265" r="10"/><text x="1282" y="1267.5">142</text></g>
<g id="g127"><circle cx="1315" cy="1267" r="12"/><text x="1315" y="1269.5">127</text></g>
<g id="g132"><circle cx="1259" cy="1289" r="10"/><text x="1259" y="1291.5">132</text></g>
<g id="g131"><circle cx="1335" cy="1323" r="9"/><text x="1335" y="1325.5">131</text></g>
<g id="g165"><circle cx="1607" cy="1303" r="10"/><text x="1607" y="1305.5">165</text></g>
<g id="g219"><circle cx="1952" cy="986" r="10"/><text x="1952" y="988.5">219</text></g>
<g id="g167"><circle cx="1754" cy="1041" r="10"/><text x="1754" y="1043.5">167</text></g>
<g id="g188" class="b"><circle cx="1842" cy="1076" r="15"/><text x="1842" y="1078.5">188</text></g>
<g id="g181" class="b"><circle cx="1713" cy="1112" r="15"/><text x="1713" y="1114.5">181</text></g>
<g id="g174"><circle cx="1781" cy="1098" r="10"/><text x="1781" y="1100.5">174</text></g>
<g id="g220"><circle cx="1981" cy="1101" r="10"/><text x="1981" y="1103.5">220</text></g>
<g id="g179"><circle cx="1762" cy="1124" r="10"/><text x="1762" y="1126.5">179</text></g>
<g id="g177"><circle cx="1829" cy="1127" r="9"/><text x="1829" y="1129.5">177</text></g>
<g id="g197"><circle cx="1906" cy="1131" r="10"/><text x="1906" y="1133.5">197</text></g>
<g id="g173"><circle cx="1807" cy="1149" r="11"/><text x="1807" y="1151.5">173</text></g>
<g id="g191"><circle cx="1854" cy="1151" r="10"/><text x="1854" y="1153.5">191</text></g>
<g id="g192"><circle cx="1877" cy="1141" r="9"/><text x="1877" y="1143.5">192</text></g>
<g id="g203" class="b"><circle cx="1947" cy="1164" r="15"/><text x="1947" y="1166.5">203</text></g>
<g id="g198"><circle cx="1830" cy="1176" r="10"/><text x="1830" y="1178.5">198</text></g>
<g id="g201"><circle cx="1996" cy="1178" r="9"/><text x="1996" y="1180.5">201</text></g>
<g id="g199"><circle cx="2034" cy="1180" r="9"/><text x="2034" y="1182.5">199</text></g>
<g id="g162"><circle cx="1728" cy="1180" r="10"/><text x="1728" y="1182.5">162</text></g>
<g id="g187"><circle cx="1832" cy="1199" r="10"/><text x="1832" y="1201.5">187</text></g>
<g id="g215"><circle cx="1993" cy="1203" r="10"/><text x="1993" y="1205.5">215</text></g>
<g id="g217" class="b"><circle cx="1955" cy="1216" r="15"/><text x="1955" y="1218.5">217</text></g>
<g id="g213" class="b"><circle cx="1915" cy="1225" r="15"/><text x="1915" y="1227.5">213</text></g>
<g id="g170"><circle cx="1761" cy="1214" r="10"/><text x="1761" y="1216.5">170</text></g>
<g id="g157"><circle cx="1645" cy="1211" r="10"/><text x="1645" y="1213.5">157</text></g>
<g id="g154"><circle cx="1714" cy="1235" r="10"/><text x="1714" y="1237.5">154</text></g>
<g id="g164"><circle cx="1821" cy="1234" r="12"/><text x="1821" y="1236.5">164</text></g>
<g id="g193"><circle cx="1882" cy="1241" r="10"/><text x="1882" y="1243.5">193</text></g>
<g id="g212"><circle cx="2004" cy="1238" r="9"/><text x="2004" y="1240.5">212</text></g>
<g id="g228"><circle cx="2049" cy="1232" r="9"/><text x="2049" y="1234.5">228</text></g>
<g id="g223"><circle cx="2073" cy="1241" r="9"/><text x="2073" y="1243.5">223</text></g>
<g id="g236"><circle cx="2088" cy="1258" r="9"/><text x="2088" y="1260.5">236</text></g>
<g id="g227"><circle cx="2043" cy="1246" r="9"/><text x="2043" y="1248.5">227</text></g>
<g id="g200"><circle cx="1974" cy="1258" r="10"/><text x="1974" y="1260.5">200</text></g>
<g id="g206"><circle cx="1998" cy="1265" r="10"/><text x="1998" y="1267.5">206</text></g>
<g id="g216"><circle cx="2034" cy="1262" r="9"/><text x="2034" y="1264.5">216</text></g>
<g id="g221"><circle cx="2061" cy="1263" r="9"/><text x="2061" y="1265.5">221</text></g>
<g id="g175"><circle cx="1908" cy="1264" r="10"/><text x="1908" y="1266.5">175</text></g>
<g id="g189"><circle cx="1939" cy="1273" r="10"/><text x="1939" y="1275.5">189</text></g>
<g id="g195"><circle cx="1973" cy="1282" r="10"/><text x="1973" y="1284.5">195</text></g>
<g id="g211"><circle cx="2026" cy="1283" r="9"/><text x="2026" y="1285.5">211</text></g>
<g id="g224"><circle cx="2040" cy="1279" r="9"/><text x="2040" y="1281.5">224</text></g>
<g id="g222"><circle cx="2064" cy="1281" r="9"/><text x="2064" y="1283.5">222</text></g>
<g id="g171"><circle cx="1868" cy="1295" r="11"/><text x="1868" y="1297.5">171</text></g>
<g id="g185"><circle cx="1904" cy="1291" r="10"/><text x="1904" y="1293.5">185</text></g>
<g id="g234"><circle cx="2048" cy="1308" r="10"/><text x="2048" y="1310.5">234</text></g>
<g id="g230" class="b"><circle cx="1963" cy="1328" r="15"/><text x="1963" y="1330.5">230</text></g>
<g id="g226"><circle cx="2022" cy="1328" r="9"/><text x="2022" y="1330.5">226</text></g>
<g id="g235"><circle cx="2033" cy="1333" r="9"/><text x="2033" y="1335.5">235</text></g>
<g id="g231"><circle cx="1993" cy="1422" r="9"/><text x="1993" y="1424.5">231</text></g>
<g id="g232"><circle cx="2002" cy="1413" r="9"/><text x="2002" y="1415.5">232</text></g>
<g id="g233"><circle cx="2013" cy="1408" r="9"/><text x="2013" y="1410.5">233</text></g>
<g id="g229"><circle cx="2018" cy="1427" r="9"/><text x="2018" y="1429.5">229</text></g>
</g>
<g id="nodes-dark" class="n d">
<g id="d147"><circle cx="1718" cy="666" r="9"/><text x="1718" y="668.5">147</text></g>
<g id="d143"><circle cx="1584" cy="727" r="9"/><text x="1584" y="729.5">143</text></g>
<g id="d163"><circle cx="1908" cy="687" r="9"/><text x="1908" y="689.5">163</text></g>
<g id="d164"><circle cx="1896" cy="697" r="9"/><text x="1896" y="699.5">164</text></g>
<g id="d166"><circle cx="1973" cy="686" r="9"/><text x="1973" y="688.5">166</text></g>
<g id="d169"><circle cx="1989" cy="693" r="9"/><text x="1989" y="695.5">169</text></g>
<g id="d168"><circle cx="1978" cy="702" r="9"/><text x="1978" y="704.5">168</text></g>
<g id="d170"><circle cx="1992" cy="711" r="9"/><text x="1992" y="713.5">170</text></g>
<g id="d157"><circle cx="1940" cy="723" r="11"/><text x="1940" y="725.5">157</text></g>
<g id="d162"><circle cx="1921" cy="738" r="11"/><text x="1921" y="740.5">162</text></g>
<g id="d159"><circle cx="1947" cy="757" r="11"/><text x="1947" y="759.5">159</text></g>
<g id="d151"><circle cx="1869" cy="729" r="9"/><text x="1869" y="731.5">151</text></g>
<g id="d148"><circle cx="1692" cy="764" r="12"/><text x="1692" y="766.5">148</text></g>
<g id="d144"><circle cx="1508" cy="777" r="12"/><text x="1508" y="779.5">144</text></g>
<g id="d146"><circle cx="1553" cy="777" r="10"/><text x="1553" y="779.5">146</text></g>
<g id="d150"><circle cx="1551" cy="795" r="10"/><text x="1551" y="797.5">150</text></g>
<g id="d149"><circle cx="1599" cy="787" r="12"/><text x="1599" y="789.5">149</text></g>
<g id="d94"><circle cx="1446" cy="820" r="10"/><text x="1446" y="822.5">94</text></g>
<g id="d140" class="b"><circle cx="1495" cy="822" r="15"/><text x="1495" y="824.5">140</text></g>
<g id="d152"><circle cx="1569" cy="816" r="10"/><text x="1569" y="818.5">152</text></g>
<g id="d153"><circle cx="1594" cy="817" r="10"/><text x="1594" y="819.5">153</text></g>
<g id="d155"><circle cx="1576" cy="848" r="10"/><text x="1576" y="850.5">155</text></g>
<g id="d154"><circle cx="1613" cy="857" r="10"/><text x="1613" y="859.5">154</text></g>
<g id="d156"><circle cx="1663" cy="842" r="12"/><text x="1663" y="844.5">156</text></g>
<g id="d142"><circle cx="1462" cy="877" r="10"/><text x="1462" y="879.5">142</text></g>
<g id="d141"><circle cx="1518" cy="873" r="10"/><text x="1518" y="875.5">141</text></g>
<g id="d158"><circle cx="1654" cy="887" r="12"/><text x="1654" y="889.5">158</text></g>
<g id="d160"><circle cx="1620" cy="907" r="10"/><text x="1620" y="909.5">160</text></g>
<g id="d161"><circle cx="1596" cy="934" r="9"/><text x="1596" y="936.5">161</text></g>
<g id="d165"><circle cx="1646" cy="933" r="9"/><text x="1646" y="935.5">165</text></g>
<g id="d127"><circle cx="1404" cy="940" r="9"/><text x="1404" y="942.5">127</text></g>
<g id="d171"><circle cx="1778" cy="782" r="10"/><text x="1778" y="784.5">171</text></g>
<g id="d172"><circle cx="1816" cy="778" r="10"/><text x="1816" y="780.5">172</text></g>
<g id="d174"><circle cx="1839" cy="781" r="10"/><text x="1839" y="783.5">174</text></g>
<g id="d175"><circle cx="1789" cy="800" r="9"/><text x="1789" y="802.5">175</text></g>
<g id="d173"><circle cx="1866" cy="798" r="9"/><text x="1866" y="800.5">173</text></g>
<g id="d176"><circle cx="1866" cy="892" r="10"/><text x="1866" y="894.5">176</text></g>
<g id="d167"><circle cx="1777" cy="928" r="9"/><text x="1777" y="930.5">167</text></g>
<g id="d178"><circle cx="1864" cy="948" r="10"/><text x="1864" y="950.5">178</text></g>
<g id="d121"><circle cx="1312" cy="779" r="10"/><text x="1312" y="781.5">121</text></g>
<g id="d9"><circle cx="1393" cy="1008" r="9"/><text x="1393" y="1010.5">9</text></g>
<g id="d136" class="b"><circle cx="1428" cy="1026" r="18"/><text x="1428" y="1028.5">136</text></g>
</g>
</svg>
